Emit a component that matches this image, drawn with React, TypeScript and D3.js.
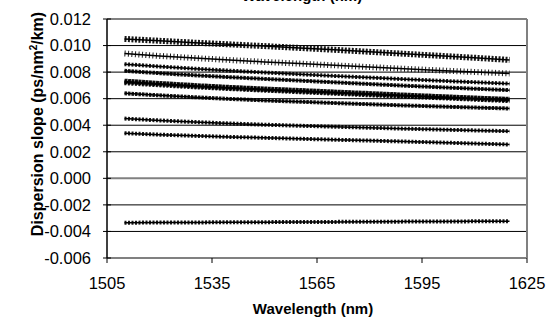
import React from 'react';
import * as d3 from 'd3';

// wavelengths (nm) and dispersion slope readings (ps/nm^2/km), one array per fibre
const wavelengths = [1510, 1520, 1530, 1540, 1550, 1560, 1570, 1580, 1590, 1600, 1610, 1620];
const fibreA = [0.01050, 0.01036, 0.01022, 0.01009, 0.00996, 0.00982, 0.00968, 0.00953, 0.00938, 0.00923, 0.00908, 0.00892];
const fibreB = [0.00940, 0.00922, 0.00906, 0.00891, 0.00877, 0.00864, 0.00851, 0.00838, 0.00825, 0.00813, 0.00801, 0.00790];
const fibreC = [0.00860, 0.00842, 0.00826, 0.00811, 0.00797, 0.00784, 0.00771, 0.00759, 0.00747, 0.00735, 0.00724, 0.00713];
const fibreD = [0.00810, 0.00792, 0.00776, 0.00762, 0.00749, 0.00736, 0.00723, 0.00710, 0.00698, 0.00686, 0.00675, 0.00664];
const fibreE = [0.00730, 0.00713, 0.00697, 0.00683, 0.00671, 0.00660, 0.00648, 0.00637, 0.00625, 0.00614, 0.00603, 0.00593];
const fibreF = [0.00722, 0.00706, 0.00691, 0.00678, 0.00666, 0.00654, 0.00643, 0.00631, 0.00620, 0.00609, 0.00598, 0.00587];
const fibreG = [0.00640, 0.00625, 0.00611, 0.00598, 0.00587, 0.00577, 0.00567, 0.00558, 0.00549, 0.00541, 0.00533, 0.00526];
const fibreH = [0.00450, 0.00436, 0.00424, 0.00413, 0.00404, 0.00396, 0.00389, 0.00381, 0.00374, 0.00367, 0.00361, 0.00355];
const fibreI = [0.00340, 0.00329, 0.00320, 0.00312, 0.00305, 0.00298, 0.00291, 0.00284, 0.00277, 0.00270, 0.00262, 0.00255];
const fibreJ = [-0.00334, -0.00333, -0.00332, -0.00331, -0.00330, -0.00329, -0.00328, -0.00327, -0.00326, -0.00325, -0.00324, -0.00323];

const xTicks = [1505, 1535, 1565, 1595, 1625];
const yTicks = [-0.006, -0.004, -0.002, 0, 0.002, 0.004, 0.006, 0.008, 0.01, 0.012];

// dense markers look like a textured band, so each series is drawn as a dashed thick stroke
const series = [
  { values: fibreA, band: 6, dash: '2 1.5' },
  { values: fibreB, band: 6, dash: '1 2.5' },
  { values: fibreC, band: 4, dash: '2 1.5' },
  { values: fibreD, band: 4, dash: '2.5 1' },
  { values: fibreE, band: 5.5, dash: '3 0.5' },
  { values: fibreF, band: 5.5, dash: '2 1.5' },
  { values: fibreG, band: 4, dash: '2.5 1' },
  { values: fibreH, band: 4, dash: '2 1.5' },
  { values: fibreI, band: 4, dash: '2 1.5' },
  { values: fibreJ, band: 4, dash: '2 1.5' },
];

const font = '"Liberation Sans", Arial, sans-serif';

export default function App() {
  const left = 107, right = 527, top = 19, bottom = 258;
  const x = d3.scaleLinear().domain([1505, 1625]).range([left, right]);
  const y = d3.scaleLinear().domain([-0.006, 0.012]).range([bottom, top]);

  const line = d3.line<number>()
    .x((_, i) => x(wavelengths[i]))
    .y(d => y(d));

  return (
    <svg width={555} height={326} style={{ position: 'absolute', left: 0, top: 0, background: '#fff' }}
      fontFamily={font}>
      {/* title, cut off by the top edge as in the source image */}
      <text x={302} y={0.5} textAnchor="middle" fontSize={15} fontWeight="bold">Wavelength (nm)</text>

      {/* gridlines */}
      {yTicks.map(t => {
        const grey = t === 0 || t === -0.006 || t === 0.012;
        return (
          <line key={t} x1={left} x2={right} y1={y(t)} y2={y(t)}
            stroke={grey ? '#808080' : '#000'} strokeWidth={grey ? 2 : 1} />
        );
      })}
      <line x1={right} x2={right} y1={top} y2={bottom} stroke="#808080" strokeWidth={2} />

      {/* series */}
      {series.map((s, i) => (
        <g key={i}>
          <path d={line(s.values) || ''} fill="none" stroke="#000" strokeWidth={1.5} />
          <path d={line(s.values) || ''} fill="none" stroke="#000" strokeWidth={s.band}
            strokeDasharray={s.dash} opacity={0.9} />
        </g>
      ))}

      {/* y axis */}
      <line x1={left} x2={left} y1={top} y2={bottom} stroke="#000" strokeWidth={1.5} />
      {yTicks.map(t => (
        <g key={t}>
          <line x1={left - 4} x2={left + 4} y1={y(t)} y2={y(t)} stroke="#000" />
          <text x={91} y={y(t)} dy="0.35em" textAnchor="end" fontSize={16.5}>{d3.format('.3f')(t).replace('−', '-')}</text>
        </g>
      ))}

      {/* x axis */}
      {xTicks.map(t => (
        <g key={t}>
          <line x1={x(t)} x2={x(t)} y1={bottom} y2={bottom + 5} stroke="#000" />
          <text x={x(t)} y={289} textAnchor="middle" fontSize={16.5}>{t}</text>
        </g>
      ))}

      <text x={313} y={314} textAnchor="middle" fontSize={15} fontWeight="bold">Wavelength (nm)</text>
      <text transform={`translate(43,${124}) rotate(-90)`} textAnchor="middle" fontSize={16} fontWeight="bold">
        Dispersion slope (ps/nm<tspan dy={-6} fontSize={10}>2</tspan><tspan dy={6}>/km)</tspan>
      </text>
    </svg>
  );
}
